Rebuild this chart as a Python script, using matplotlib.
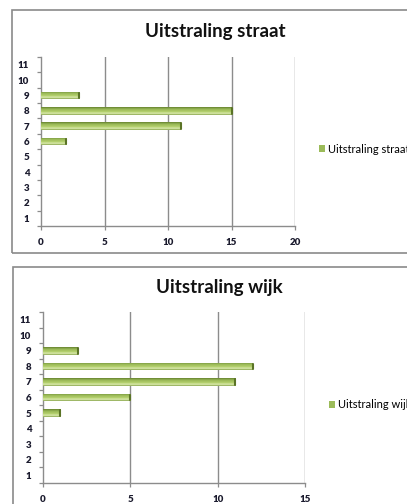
import numpy as np
import matplotlib
matplotlib.use("Agg")
import matplotlib.pyplot as plt
from matplotlib.patches import Rectangle
from matplotlib.colors import LinearSegmentedColormap
from matplotlib.ticker import FixedLocator

# Scores 1..11 and how many respondents gave each score
categories = list(range(1, 12))
straat_values = [0, 0, 0, 0, 0, 2, 11, 15, 3, 0, 0]
wijk_values = [0, 0, 0, 0, 1, 5, 11, 12, 2, 0, 0]

straat_title = "Uitstraling straat"
wijk_title = "Uitstraling wijk"
straat_xticks = [0, 5, 10, 15, 20]
wijk_xticks = [0, 5, 10, 15]

W, H = 407, 504
FONT = ["Lato", "DejaVu Sans"]
GRID = "#8c8c8c"
GREEN = "#9bbb59"

# vertical shading of a bar: dark rim, bright highlight, olive body, dark underside
bar_cmap = LinearSegmentedColormap.from_list(
    "bar", [(0.0, "#86a34a"), (0.2, "#dcecb0"), (0.42, "#b3cf6c"),
            (0.75, "#98b856"), (1.0, "#66822f")])

fig = plt.figure(figsize=(W / 100, H / 100), dpi=100)
fig.patch.set_facecolor("white")


def px_axes(left, top, right, bottom):
    return fig.add_axes([left / W, 1 - bottom / H, (right - left) / W, (bottom - top) / H])


def frame(left, top, right, bottom):
    fig.patches.append(Rectangle((left / W, 1 - bottom / H), (right - left) / W,
                                 (bottom - top) / H, transform=fig.transFigure,
                                 fill=False, edgecolor="#8a8a8a", lw=1.2, zorder=0))


def draw_chart(ax, values, title, xticks, title_xy, legend_xy):
    xmax = xticks[-1]
    bars = ax.barh(categories, values, height=0.5, color=GREEN, lw=0, zorder=3,
                   label=title)
    grad = np.linspace(0, 1, 64).reshape(-1, 1)
    for rect, v in zip(bars, values):
        if v <= 0:
            continue
        y0 = rect.get_y()
        h = rect.get_height()
        im = ax.imshow(grad, cmap=bar_cmap, aspect="auto",
                       extent=(0, v, y0 + h, y0), origin="upper", zorder=4)
        im.set_clip_path(rect)
        # darker rounded end of the bar
        ax.plot([v, v], [y0 + 0.07, y0 + h - 0.07], color="#5a7326", lw=1.5,
                solid_capstyle="round", zorder=5)

    ax.set_xlim(0, xmax)
    ax.set_ylim(0.5, 11.5)
    ax.set_aspect("auto")
    ax.set_xticks(xticks)
    ax.set_yticks(categories)
    ax.yaxis.set_minor_locator(FixedLocator(np.arange(0.5, 12, 1)))
    ax.tick_params(axis="y", which="major", length=0, pad=8.5, labelsize=7)
    ax.tick_params(axis="y", which="minor", length=3, width=0.9, color=GRID)
    ax.tick_params(axis="x", which="major", length=3, width=0.9, color=GRID,
                   pad=5.5, labelsize=7)
    for lab in ax.get_xticklabels() + ax.get_yticklabels():
        lab.set_fontfamily(FONT)
        lab.set_fontweight("heavy")
        lab.set_color("#1b1b2e")
    for x in xticks[1:]:
        ax.axvline(x, color=GRID, lw=1.0, zorder=1)
    for side in ("top", "right"):
        ax.spines[side].set_visible(False)
    for side in ("left", "bottom"):
        ax.spines[side].set_color(GRID)
        ax.spines[side].set_linewidth(1.0)
    ax.set_facecolor("none")

    fig.text(title_xy[0] / W, 1 - title_xy[1] / H, title, ha="center", va="center",
             fontsize=13.5, fontweight="bold", family=FONT, color="#111111")
    fig.legend(handles=[bars], labels=[title], loc="center left",
               bbox_to_anchor=(legend_xy[0] / W, 1 - legend_xy[1] / H),
               frameon=False, handlelength=0.5, handleheight=0.5,
               handletextpad=0.3, borderpad=0, borderaxespad=0,
               prop={"family": FONT, "size": 8})


frame(12, 10, 430, 253)
frame(13, 267, 430, 520)

ax1 = px_axes(41, 57, 295, 226)
draw_chart(ax1, straat_values, straat_title, straat_xticks, (215, 32), (319, 149))

ax2 = px_axes(43, 312, 305, 483)
draw_chart(ax2, wijk_values, wijk_title, wijk_xticks, (219, 287), (329, 405))

fig.savefig("out.png", dpi=100, facecolor="white")
